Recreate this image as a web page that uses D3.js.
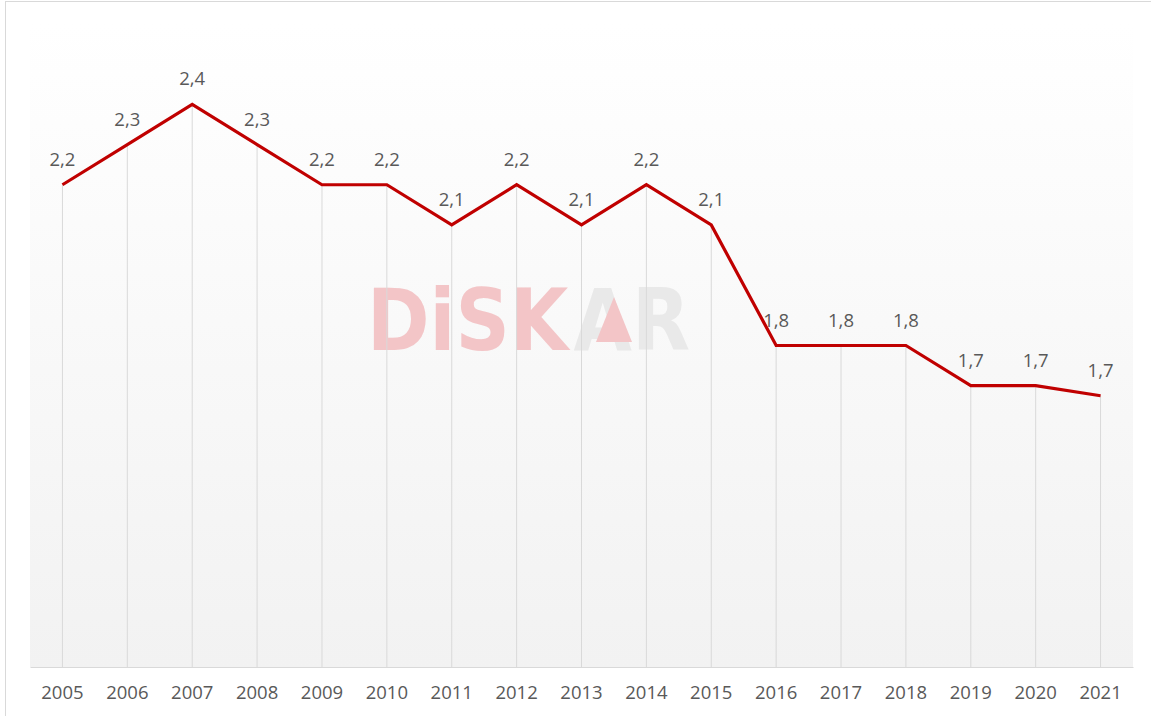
<!DOCTYPE html>
<html>
<head>
<meta charset="utf-8">
<script src="https://cdn.jsdelivr.net/npm/d3@7"></script>
<style>
  html, body { margin: 0; padding: 0; background: #fff; }
  svg { display: block; }
</style>
</head>
<body>
<svg width="1151" height="716"></svg>
<script>
(function(){
  'use strict';

  var WIDTH = 1151;
  var HEIGHT = 716;

  var padding = { top: 24, bottom: 49, left: 30, right: 18 };

  // data
  var years = ['2005','2006','2007','2008','2009','2010','2011','2012','2013',
               '2014','2015','2016','2017','2018','2019','2020','2021'];
  var values = [2.2, 2.3, 2.4, 2.3, 2.2, 2.2, 2.1, 2.2, 2.1,
                2.2, 2.1, 1.8, 1.8, 1.8, 1.7, 1.7, 1.675];
  var yDomain = [1.0, 2.6];

  var points = years.map(function(y, i) { return { year: y, value: values[i] }; });

  var fmt = d3.formatLocale({ decimal: ',', thousands: '.', grouping: [3], currency: ['', ''] }).format('.1f');

  var svg = d3.select('svg');

  // frame
  svg.append('rect')
    .attr('x', 5.5).attr('y', 1.5)
    .attr('width', 1160).attr('height', 730)
    .attr('fill', '#fff')
    .attr('stroke', '#d9d9d9');

  var grad = svg.append('defs').append('linearGradient')
    .attr('id', 'bg').attr('x1', 0).attr('y1', 0).attr('x2', 0).attr('y2', 1);
  grad.append('stop').attr('offset', '0%').attr('stop-color', '#ffffff');
  grad.append('stop').attr('offset', '100%').attr('stop-color', '#f2f2f2');

  var xScale = d3.scaleBand()
    .domain(years)
    .range([padding.left, WIDTH - padding.right]);

  var yScale = d3.scaleLinear()
    .domain(yDomain)
    .range([HEIGHT - padding.bottom, padding.top]);

  var x = function(d) { return xScale(d.year) + xScale.bandwidth() / 2; };
  var y = function(d) { return yScale(d.value); };

  svg.append('rect')
    .attr('x', padding.left)
    .attr('y', padding.top)
    .attr('width', xScale.range()[1] - padding.left)
    .attr('height', yScale.range()[0] - padding.top)
    .attr('fill', 'url(#bg)');

  // watermark
  var wm = svg.append('g')
    .attr('font-family', 'DejaVu Sans').attr('font-weight', 'bold')
    .attr('font-size', 86);
  var t1 = wm.append('text').attr('x', 0).attr('y', 0).attr('fill', '#f3c5c7').text('DiSK');
  var w1 = t1.node().getComputedTextLength();
  var t2 = wm.append('text').attr('x', w1 + 6).attr('y', 0).attr('fill', '#e9e9e9').text('AR');
  var w2 = t2.node().getComputedTextLength();
  var sx = 323 / (w1 + 6 + w2);
  wm.attr('transform', 'translate(367,350) scale(' + sx + ',1)');
  svg.append('path')
    .attr('d', 'M614,297 L632,342 L596,342 Z')
    .attr('fill', '#f3c5c7');

  // drop lines
  svg.append('g').selectAll('line')
    .data(points)
    .enter()
    .append('line')
    .attr('x1', x).attr('x2', x)
    .attr('y1', y)
    .attr('y2', yScale.range()[0])
    .attr('stroke', '#d9d9d9')
    .attr('stroke-width', 1);

  // x axis
  var axis = svg.append('g')
    .attr('class', 'axis')
    .attr('transform', 'translate(0,' + (HEIGHT - padding.bottom) + ')')
    .call(d3.axisBottom(xScale).tickSize(0).tickSizeOuter(0).tickPadding(19));
  axis.select('.domain').attr('stroke', '#d9d9d9');
  axis.selectAll('text')
    .attr('fill', '#595959')
    .attr('font-family', 'Open Sans')
    .attr('font-size', 18.5);

  // line
  svg.append('path')
    .datum(points)
    .attr('fill', 'none')
    .attr('stroke', '#c00000')
    .attr('stroke-width', 3.2)
    .attr('stroke-linejoin', 'miter')
    .attr('d', d3.line().x(x).y(y));

  // labels
  svg.append('g').selectAll('text')
    .data(points)
    .enter()
    .append('text')
    .attr('x', x)
    .attr('y', function(d) { return y(d) - 19; })
    .attr('text-anchor', 'middle')
    .attr('fill', '#595959')
    .attr('font-family', 'Open Sans')
    .attr('font-size', 18.5)
    .text(function(d) { return fmt(d.value); });
})();
</script>
</body>
</html>
